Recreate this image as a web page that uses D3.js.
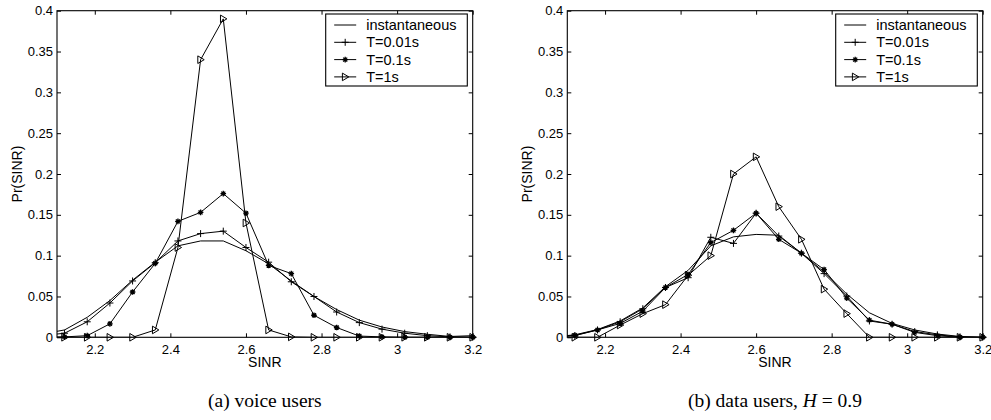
<!DOCTYPE html>
<html>
<head>
<meta charset="utf-8">
<script src="https://cdn.jsdelivr.net/npm/d3@7"></script>
<style>
  body { margin: 0; background: #fff; }
  svg { display: block; }
  text { font-family: "Liberation Sans", Arial, Helvetica, sans-serif; fill: #000; }
  .caption { font-family: "Liberation Serif", "Times New Roman", serif; }
</style>
</head>
<body>
<svg id="fig" width="991" height="420"></svg>
<script>
// SINR grid (the first point lies just left of the visible range)
const sinr = [2.06, 2.12, 2.18, 2.24, 2.30, 2.36, 2.42, 2.48, 2.54, 2.60,
              2.66, 2.72, 2.78, 2.84, 2.90, 2.96, 3.02, 3.08, 3.14, 3.20];

// (a) voice users
const voiceInst = [0.004, 0.009, 0.0245, 0.045, 0.070, 0.092, 0.112, 0.118, 0.118, 0.106,
                   0.090, 0.069, 0.050, 0.034, 0.021, 0.0126, 0.007, 0.0037, 0.001, 0.002];
const voiceT001 = [0.002, 0.005, 0.019, 0.042, 0.069, 0.0914, 0.118, 0.127, 0.130, 0.110,
                   0.092, 0.068, 0.050, 0.031, 0.018, 0.010, 0.005, 0.002, 0.0005, 0];
const voiceT01  = [0, 0.0005, 0.002, 0.0165, 0.0555, 0.0906, 0.142, 0.153, 0.176, 0.152,
                   0.088, 0.078, 0.027, 0.012, 0.0015, 0.0005, 0, 0, 0, 0];
const voiceT1   = [0, 0, 0, 0, 0, 0.009, 0.110, 0.340, 0.390, 0.140,
                   0.009, 0.0005, 0, 0, 0, 0, 0, 0, 0, 0];

// (b) data users, H = 0.9
const dataInst = [0.0005, 0.003, 0.0095, 0.020, 0.036, 0.062, 0.082, 0.112, 0.123, 0.126,
                  0.125, 0.103, 0.080, 0.053, 0.030, 0.017, 0.009, 0.004, 0.001, 0];
const dataT001 = [0, 0.002, 0.009, 0.019, 0.035, 0.061, 0.073, 0.1225, 0.115, 0.152,
                  0.124, 0.103, 0.078, 0.0505, 0.020, 0.016, 0.007, 0.003, 0.0005, 0];
const dataT01  = [0, 0.0025, 0.009, 0.017, 0.032, 0.061, 0.077, 0.116, 0.131, 0.152,
                  0.120, 0.103, 0.083, 0.048, 0.021, 0.016, 0.006, 0.002, 0, 0];
const dataT1   = [0, 0, 0, 0.015, 0.029, 0.040, 0.076, 0.100, 0.200, 0.221,
                  0.160, 0.120, 0.059, 0.029, 0, 0, 0, 0, 0, 0];

const seriesNames = ["instantaneous", "T=0.01s", "T=0.1s", "T=1s"];
const markerKinds = ["none", "plus", "star", "tri"];

const xDomain = [2.1, 3.2];
const yDomain = [0, 0.4];
const xTicks = [2.2, 2.4, 2.6, 2.8, 3.0, 3.2];
const xTickLabels = ["2.2", "2.4", "2.6", "2.8", "3", "3.2"];
const yTicks = [0, 0.05, 0.1, 0.15, 0.2, 0.25, 0.3, 0.35, 0.4];
const yTickLabels = ["0", "0.05", "0.1", "0.15", "0.2", "0.25", "0.3", "0.35", "0.4"];

const panels = [
  { left: 57, right: 472.7, series: [voiceInst, voiceT001, voiceT01, voiceT1],
    caption: [{ t: "(a) voice users" }] },
  { left: 567.3, right: 982.7, series: [dataInst, dataT001, dataT01, dataT1],
    caption: [{ t: "(b) data users, " }, { t: "H", italic: true }, { t: " = 0.9" }] }
];
const plotTop = 10.7, plotBottom = 337.3;

const svg = d3.select("#fig");

function markerPath(kind) {
  if (kind === "plus") return "M-3.5,0H3.5M0,-3.5V3.5";
  if (kind === "star") return "M-2.8,0H2.8M0,-2.8V2.8M-2,-2L2,2M-2,2L2,-2";
  if (kind === "tri") return "M-2.8,-3.8L3.6,0L-2.8,3.8Z";
  return null;
}

function drawMarker(g, kind, cx, cy) {
  const p = markerPath(kind);
  if (!p) return;
  g.append("path")
    .attr("d", p)
    .attr("transform", `translate(${cx},${cy})`)
    .attr("fill", "none")
    .attr("stroke", "#000")
    .attr("stroke-width", kind === "star" ? 1.3 : 1);
}

panels.forEach((pn, pi) => {
  const x = d3.scaleLinear().domain(xDomain).range([pn.left, pn.right]);
  const y = d3.scaleLinear().domain(yDomain).range([plotBottom, plotTop]);
  const g = svg.append("g");

  const clipId = "clip" + pi;
  svg.append("clipPath").attr("id", clipId)
    .append("rect")
    .attr("x", pn.left).attr("y", plotTop)
    .attr("width", pn.right - pn.left).attr("height", plotBottom - plotTop);

  // axes with inward ticks on all four sides
  const fmtX = d => xTickLabels[xTicks.indexOf(d)];
  const fmtY = d => yTickLabels[yTicks.indexOf(d)];

  const axB = g.append("g").attr("transform", `translate(0,${plotBottom})`)
    .call(d3.axisBottom(x).tickValues(xTicks).tickFormat(fmtX)
      .tickSizeInner(-4).tickSizeOuter(0).tickPadding(7));
  const axT = g.append("g").attr("transform", `translate(0,${plotTop})`)
    .call(d3.axisTop(x).tickValues(xTicks).tickFormat("")
      .tickSizeInner(-4).tickSizeOuter(0));
  const axL = g.append("g").attr("transform", `translate(${pn.left},0)`)
    .call(d3.axisLeft(y).tickValues(yTicks).tickFormat(fmtY)
      .tickSizeInner(-4).tickSizeOuter(0).tickPadding(4));
  const axR = g.append("g").attr("transform", `translate(${pn.right},0)`)
    .call(d3.axisRight(y).tickValues(yTicks).tickFormat("")
      .tickSizeInner(-4).tickSizeOuter(0));
  [axB, axT, axL, axR].forEach(a => {
    a.select(".domain").remove();
    a.selectAll("line").attr("stroke", "#000").attr("stroke-width", 1);
    a.selectAll("text").attr("font-size", 13)
      .attr("font-family", "'Liberation Sans', Arial, sans-serif");
  });

  // frame
  g.append("rect")
    .attr("x", pn.left).attr("y", plotTop)
    .attr("width", pn.right - pn.left).attr("height", plotBottom - plotTop)
    .attr("fill", "none").attr("stroke", "#000").attr("stroke-width", 1.1);

  // series lines and markers
  const line = d3.line().x((d, i) => x(sinr[i])).y(d => y(d));
  pn.series.forEach((vals, si) => {
    g.append("path")
      .attr("d", line(vals))
      .attr("clip-path", `url(#${clipId})`)
      .attr("fill", "none")
      .attr("stroke", "#000")
      .attr("stroke-width", 1);
    const mg = g.append("g");
    vals.forEach((v, i) => {
      if (sinr[i] < xDomain[0] || sinr[i] > xDomain[1] + 1e-9) return;
      drawMarker(mg, markerKinds[si], x(sinr[i]), y(v));
    });
  });

  // axis titles
  g.append("text")
    .attr("x", (pn.left + pn.right) / 2).attr("y", 367)
    .attr("text-anchor", "middle").attr("font-size", 14)
    .text("SINR");
  g.append("text")
    .attr("transform", `translate(${pn.left - 35},${(plotTop + plotBottom) / 2}) rotate(-90)`)
    .attr("text-anchor", "middle").attr("font-size", 14)
    .text("Pr(SINR)");

  // legend
  const lgX = pn.right - 147, lgY = plotTop + 3.3, lgW = 141.6, lgH = 72;
  const lg = g.append("g");
  lg.append("rect")
    .attr("x", lgX).attr("y", lgY).attr("width", lgW).attr("height", lgH)
    .attr("fill", "#fff").attr("stroke", "#000").attr("stroke-width", 1.1);
  seriesNames.forEach((name, si) => {
    const ry = lgY + 11 + si * 17.3;
    lg.append("line")
      .attr("x1", lgX + 8.5).attr("x2", lgX + 30.5)
      .attr("y1", ry).attr("y2", ry)
      .attr("stroke", "#000").attr("stroke-width", 1);
    drawMarker(lg, markerKinds[si], lgX + 19.5, ry);
    lg.append("text")
      .attr("x", lgX + 40.5).attr("y", ry + 5)
      .attr("font-size", 14.5)
      .text(name);
  });

  // caption
  const cap = g.append("text")
    .attr("class", "caption")
    .attr("x", (pn.left + pn.right) / 2).attr("y", 407)
    .attr("text-anchor", "middle").attr("font-size", 19.5);
  pn.caption.forEach(part => {
    const ts = cap.append("tspan").text(part.t);
    if (part.italic) ts.attr("font-style", "italic");
  });
});
</script>
</body>
</html>
